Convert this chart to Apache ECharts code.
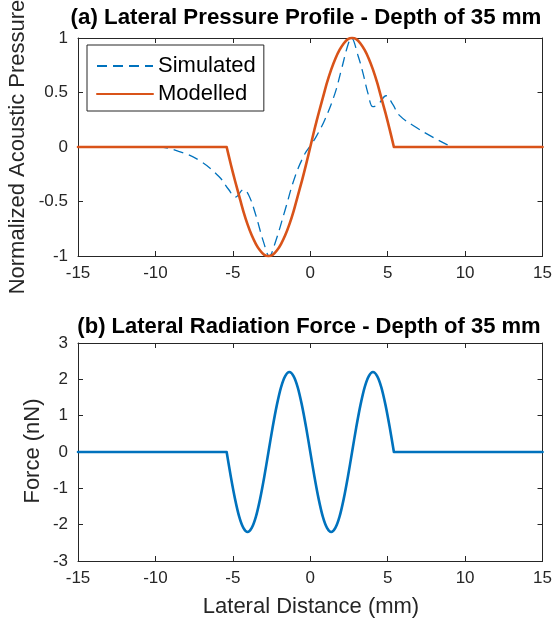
<!DOCTYPE html>
<html>
<head>
<meta charset="utf-8">
<script src="https://cdn.jsdelivr.net/npm/echarts@6/dist/echarts.min.js"></script>
<style>
  html, body { margin: 0; padding: 0; background: #fff; }
  #chart { width: 555px; height: 628px; }
</style>
</head>
<body>
<div id="chart"></div>
<script>
// ---- data ----
// (a) simulated pressure (dashed)
var simX = [-15, -9.8, -8.5, -7.2, -5.9, -5.27, -4.84, -4.3, -3.98, -3.55, -3.0, -2.65, -2.27, -1.63, -0.98, -0.34, 0.05,
            0.4, 0.94, 1.59, 2.01, 2.44, 2.65, 3.08, 3.4, 3.73, 4.05, 4.37, 4.9, 5.33, 5.76, 6.72, 7.79, 8.86, 9.3, 15];
var simY = [0, 0, -0.04, -0.12, -0.27, -0.39, -0.46, -0.39, -0.44, -0.61, -0.88, -1.0, -0.88, -0.58, -0.27, -0.06, 0.02,
            0.1, 0.25, 0.49, 0.71, 0.94, 1.0, 0.84, 0.68, 0.49, 0.37, 0.39, 0.47, 0.39, 0.29, 0.19, 0.1, 0.02, 0, 0];

// flat zero stretches either side of the active zone (mm)
var flatLeftX = [-15, -5.4];
var flatRightX = [5.4, 15];
// lateral positions inside the active zone (mm)
var latX = [-5.4, -5.13, -4.86, -4.59, -4.32, -4.05, -3.78, -3.51, -3.24, -2.97, -2.7, -2.43, -2.16, -1.89, -1.62, -1.35,
            -1.08, -0.81, -0.54, -0.27, 0, 0.27, 0.54, 0.81, 1.08, 1.35, 1.62, 1.89, 2.16, 2.43, 2.7, 2.97, 3.24, 3.51,
            3.78, 4.05, 4.32, 4.59, 4.86, 5.13, 5.4];
// (a) modelled pressure (solid orange)
var modY = [0, -0.16, -0.31, -0.45, -0.59, -0.71, -0.81, -0.89, -0.95, -0.99, -1, -0.99, -0.95, -0.89, -0.81, -0.71,
            -0.59, -0.45, -0.31, -0.16, 0, 0.16, 0.31, 0.45, 0.59, 0.71, 0.81, 0.89, 0.95, 0.99, 1, 0.99, 0.95, 0.89,
            0.81, 0.71, 0.59, 0.45, 0.31, 0.16, 0];
// (b) lateral radiation force (nN)
var forceY = [0, -0.68, -1.29, -1.78, -2.09, -2.2, -2.09, -1.78, -1.29, -0.68, 0, 0.68, 1.29, 1.78, 2.09, 2.2,
              2.09, 1.78, 1.29, 0.68, 0, -0.68, -1.29, -1.78, -2.09, -2.2, -2.09, -1.78, -1.29, -0.68, 0, 0.68, 1.29, 1.78,
              2.09, 2.2, 2.09, 1.78, 1.29, 0.68, 0];

function pairs(xs, ys) {
  var out = [];
  for (var i = 0; i < xs.length; i++) out.push([xs[i], ys[i]]);
  return out;
}
// flat left part, break, active part, break, flat right part
// (the breaks keep the smoothing from rounding the corners)
function piecewise(ys) {
  return pairs(flatLeftX, [0, 0])
    .concat([[-5.4, '-']])
    .concat(pairs(latX, ys))
    .concat([[5.4, '-']])
    .concat(pairs(flatRightX, [0, 0]));
}

var FONT = "'Liberation Sans', Arial, Helvetica, sans-serif";
var INK = '#262626';

function xAx(grid, pos, labels) {
  return {
    type: 'value', gridIndex: grid, position: pos, min: -15, max: 15, interval: 5,
    axisLine: {show: true, onZero: false, lineStyle: {color: INK, width: 1}},
    axisTick: {show: true, inside: true, length: 5, lineStyle: {color: INK}},
    axisLabel: {show: labels, color: INK, fontSize: 17, fontFamily: FONT, margin: 9},
    splitLine: {show: false}
  };
}
function yAx(grid, pos, min, max, step, labels) {
  return {
    type: 'value', gridIndex: grid, position: pos, min: min, max: max, interval: step,
    axisLine: {show: true, onZero: false, lineStyle: {color: INK, width: 1}},
    axisTick: {show: true, inside: true, length: 5, lineStyle: {color: INK}},
    axisLabel: {show: labels, color: INK, fontSize: 17, fontFamily: FONT, margin: 10},
    splitLine: {show: false}
  };
}

var chart = echarts.init(document.getElementById('chart'));
var option = {
  backgroundColor: '#fff',
  animation: false,
  textStyle: {fontFamily: FONT},
  grid: [
    {left: 78, top: 38, width: 467, height: 218},
    {left: 78, top: 343, width: 467, height: 218}
  ],
  xAxis: [xAx(0, 'bottom', true), xAx(0, 'top', false), xAx(1, 'bottom', true), xAx(1, 'top', false)],
  yAxis: [yAx(0, 'left', -1, 1, 0.5, true), yAx(0, 'right', -1, 1, 0.5, false),
          yAx(1, 'left', -3, 3, 1, true), yAx(1, 'right', -3, 3, 1, false)],
  legend: {
    data: ['Simulated', 'Modelled'],
    orient: 'vertical',
    left: 87, top: 45,
    padding: [10, 8, 6, 9],
    itemWidth: 56, itemHeight: 14, itemGap: 6,
    itemStyle: {opacity: 0},
    borderColor: INK, borderWidth: 1, borderRadius: 0,
    backgroundColor: '#fff',
    textStyle: {fontSize: 22, color: '#000', fontFamily: FONT}
  },
  graphic: [
    {type: 'text', x: 306, y: 18, style: {text: '(a) Lateral Pressure Profile - Depth of 35 mm', font: 'bold 22.3px ' + FONT, fill: '#000', textAlign: 'center', textVerticalAlign: 'middle'}},
    {type: 'text', x: 309, y: 327, style: {text: '(b) Lateral Radiation Force - Depth of 35 mm', font: 'bold 22px ' + FONT, fill: '#000', textAlign: 'center', textVerticalAlign: 'middle'}},
    {type: 'text', x: 18, y: 147, rotation: Math.PI / 2, style: {text: 'Normalized Acoustic Pressure', font: '22px ' + FONT, fill: INK, textAlign: 'center', textVerticalAlign: 'middle'}},
    {type: 'text', x: 33, y: 451, rotation: Math.PI / 2, style: {text: 'Force (nN)', font: '22px ' + FONT, fill: INK, textAlign: 'center', textVerticalAlign: 'middle'}},
    {type: 'text', x: 311, y: 607, style: {text: 'Lateral Distance (mm)', font: '22px ' + FONT, fill: INK, textAlign: 'center', textVerticalAlign: 'middle'}}
  ],
  series: [
    {
      name: 'Simulated', type: 'line', xAxisIndex: 0, yAxisIndex: 0,
      data: pairs(simX, simY), showSymbol: false, symbol: 'none', smooth: 0.4, clip: false,
      lineStyle: {color: '#0072BD', width: 1.3, type: [10, 6]},
      itemStyle: {color: '#0072BD'}
    },
    {
      name: 'Modelled', type: 'line', xAxisIndex: 0, yAxisIndex: 0,
      data: piecewise(modY), showSymbol: false, symbol: 'none', smooth: 0.3, clip: false,
      lineStyle: {color: '#D95319', width: 2.6, cap: 'round', join: 'round'},
      itemStyle: {color: '#D95319'}
    },
    {
      name: 'Force', type: 'line', xAxisIndex: 2, yAxisIndex: 2,
      data: piecewise(forceY), showSymbol: false, symbol: 'none', smooth: 0.3, clip: false,
      lineStyle: {color: '#0072BD', width: 2.6, cap: 'round', join: 'round'},
      itemStyle: {color: '#0072BD'}
    }
  ]
};
chart.setOption(option);
</script>
</body>
</html>
